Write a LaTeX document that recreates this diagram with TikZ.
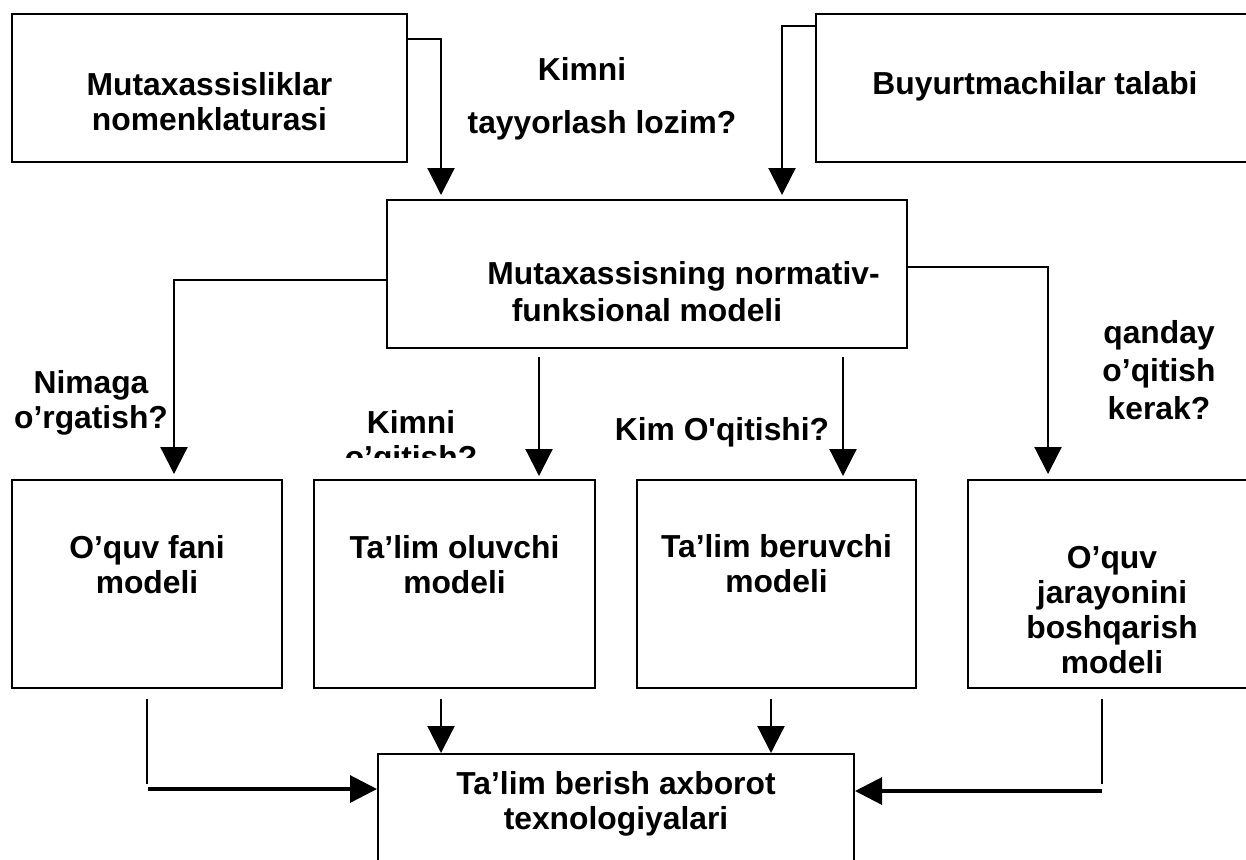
\documentclass[tikz,border=0pt]{standalone}
\usepackage{fontspec}
\setmainfont{Liberation Sans}
\usetikzlibrary{arrows.meta,calc}

\begin{document}
\begin{tikzpicture}[x=0.5pt,y=-0.5pt,>={Triangle[length=13.5pt,width=13.5pt]},
  every node/.style={font=\fontsize{15.9pt}{17.5pt}\selectfont\bfseries,align=center,inner sep=0pt},
  box/.style={draw,line width=1pt,anchor=north west},
  arr/.style={->,line width=1.1pt},
  feed/.style={line width=1.1pt}]
\clip (0,0) rectangle (1246,859);
\fill[white] (0,0) rectangle (1246,859);

% sources
\node[box,minimum width=197.5pt,text height=58pt,text depth=16pt] (nom) at (11,13) {Mutaxassisliklar\\nomenklaturasi};
\node[box,minimum width=219pt,text height=40pt,text depth=34pt] (buy) at (815,13) {Buyurtmachilar talabi};
\node[anchor=base] (tayyor) at (602,133) {Kimni\hspace*{20pt}\\[9pt]tayyorlash lozim?};

% central model
\node[box,minimum width=260pt,text height=60.5pt,text depth=13.5pt] (nfm) at (386,199) {\hspace*{36.5pt}Mutaxassisning normativ-\\[1pt]funksional modeli};

% partial models
\node[box,minimum width=135pt,text height=56.5pt,text depth=47.5pt] (fan) at (11,479) {O’quv fani\\modeli};
\node[box,minimum width=140.5pt,text height=56.5pt,text depth=47.5pt] (olv) at (313,479) {Ta’lim oluvchi\\modeli};
\node[box,minimum width=139.5pt,text height=56pt,text depth=48pt] (ber) at (636,479) {Ta’lim beruvchi\\modeli};
\node[box,minimum width=144pt,text height=96.5pt,text depth=7.5pt] (jar) at (967,479) {O’quv\\jarayonini\\boshqarish\\modeli};
\node[box,minimum width=238pt,text height=37.5pt,text depth=26pt] (axb) at (377,753) {Ta’lim berish axborot\\texnologiyalari};

% questions
\node[anchor=base] (nimaga) at (91,428) {Nimaga\\o’rgatish?};
\begin{scope}
\clip (330,395) rectangle (500,457);
\node[anchor=base] (kimni) at (411,468) {Kimni\\o’qitish?};
\end{scope}
\node[anchor=base] (kimoq) at (722,440) {Kim O\textquotesingle qitishi?};
\node[anchor=base] (qanday) at (1159,419) {qanday\\[1.5pt]o’qitish\\[1.5pt]kerak?};

% connectors
\draw[arr,shorten >=2pt] ($(nom.north east)+(0,26)$) -| ($(nfm.north west)+(55,0)$);
\draw[arr,shorten >=2pt] ($(buy.north west)+(0,13)$) -| ($(nfm.north east)+(-126,0)$);
\draw[arr,shorten >=2.5pt] ($(nfm.north west)+(0,81)$) -| ($(fan.north)+(27,0)$);
\draw[arr,shorten >=1.5pt] ($(nfm.south west)+(153,8)$) coordinate (p2) -- (p2 |- olv.north);
\draw[arr,shorten >=1.5pt] ($(nfm.south west)+(457,8)$) coordinate (p3) -- (p3 |- ber.north);
\draw[arr,shorten >=2.5pt] ($(nfm.north east)+(0,68)$) -| ($(jar.north west)+(81,0)$);
\draw[feed] ($(fan.south)+(0,10)$) -- ++(0,85);
\draw[arr,line width=1.6pt] ($(fan.south)+(1,100)$) coordinate (p5) -- (p5 -| axb.west);
\draw[arr] ($(olv.south west)+(128,10)$) coordinate (p6) -- (p6 |- axb.north);
\draw[arr] ($(ber.south west)+(135,10)$) coordinate (p7) -- (p7 |- axb.north);
\draw[feed] ($(jar.south west)+(135,10)$) -- ++(0,85);
\draw[arr,line width=1.6pt] ($(jar.south west)+(135,102)$) coordinate (p8) -- (p8 -| axb.east);
\end{tikzpicture}
\end{document}
